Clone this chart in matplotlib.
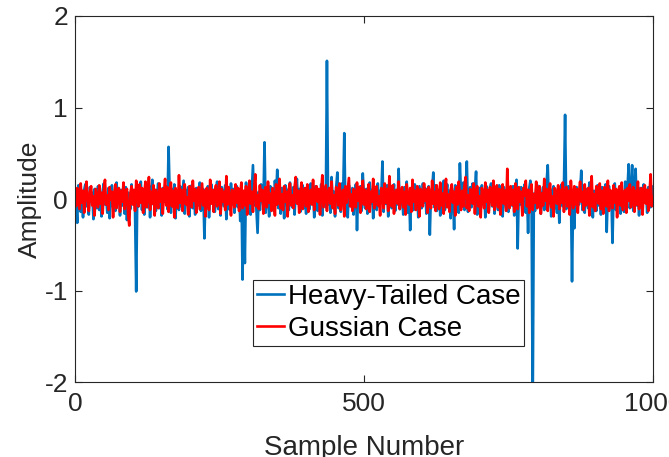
import numpy as np
import matplotlib.pyplot as plt

plt.rcParams['font.family'] = ['Liberation Sans', 'DejaVu Sans']
plt.rcParams['axes.unicode_minus'] = False

# sample positions (every 2nd sample of 0..1000)
samples = np.arange(0, 1001, 2)

# heavy-tailed noise
heavy_tailed = [
    0.12, -0.05, -0.26, 0.15, 0.03, -0.14, 0.08, -0.2, 0.1, 0.16, -0.08, 0.02, -0.17, 0.13, -0.03, 0.07, -0.22, 0.11, 0.05, -0.1,
    0.14, -0.12, 0.04, -0.19, 0.09, 0.17, -0.06, 0.01, -0.15, 0.12, -0.21, 0.06, 0.15, -0.09, 0.03, -0.13, 0.18, -0.04, 0.08, -0.18,
    0.1, -0.07, 0.05, -0.16, 0.13, -0.23, 0.07, 0.02, -0.11, 0.16, -0.05, 0.09, -0.14, -1.01, 0.11, -0.08, 0.04, 0.19, -0.12, 0.06,
    -0.17, 0.13, 0.02, -0.09, 0.15, -0.2, 0.08, 0.21, -0.06, 0.1, -0.13, 0.04, 0.17, -0.1, 0.07, -0.18, 0.12, -0.03, 0.09, 0.14,
    -0.11, 0.57, 0.05, -0.15, 0.11, -0.06, 0.16, -0.21, 0.08, 0.03, -0.12, 0.14, -0.08, 0.06, 0.2, -0.16, 0.1, -0.04, 0.13, -0.19,
    0.07, 0.15, -0.1, 0.04, -0.17, 0.12, 0.09, -0.07, 0.18, -0.13, 0.02, 0.11, -0.43, 0.06, -0.09, 0.14, -0.2, 0.08, 0.16, -0.05,
    0.1, -0.14, 0.05, 0.19, -0.11, 0.03, -0.18, 0.13, 0.07, -0.08, 0.15, -0.22, 0.09, 0.01, -0.12, 0.17, -0.06, 0.11, -0.15, 0.04,
    0.14, -0.09, 0.08, -0.24, 0.12, -0.88, 0.06, -0.7, 0.18, -0.13, 0.05, 0.1, -0.17, 0.09, 0.37, -0.07, 0.13, -0.11, -0.37, 0.08,
    -0.12, 0.16, 0.03, -0.08, 0.62, -0.15, 0.11, 0.06, -0.19, 0.14, -0.04, 0.09, -0.13, 0.2, 0.02, 0.32, -0.1, 0.07, -0.16, 0.12,
    0.05, -0.21, 0.15, -0.06, 0.1, -0.12, 0.18, 0.03, -0.09, 0.13, -0.17, 0.08, 0.22, -0.05, 0.11, -0.14, 0.06, 0.15, -0.1, 0.02,
    -0.16, 0.12, 0.07, -0.11, 0.17, -0.04, 0.09, -0.2, 0.14, 0.04, -0.13, 0.1, -0.07, 0.16, -0.18, 0.08, 0.13, -0.09, 1.51, -0.06,
    0.11, -0.15, 0.24, -0.03, 0.08, -0.19, 0.13, 0.29, -0.1, 0.06, -0.14, 0.17, 0.02, 0.72, -0.12, 0.1, -0.2, 0.15, 0.05, -0.08,
    0.12, -0.17, 0.07, 0.16, -0.34, 0.09, -0.06, 0.14, -0.13, 0.28, 0.04, -0.1, 0.11, -0.16, 0.08, 0.18, -0.05, 0.1, -0.21, 0.13,
    0.06, -0.12, 0.17, -0.08, 0.09, 0.03, 0.41, -0.14, 0.11, -0.05, 0.15, -0.19, 0.07, 0.12, -0.1, 0.04, 0.16, -0.13, 0.08, -0.06,
    0.33, -0.11, 0.1, 0.05, -0.17, 0.13, -0.08, 0.19, -0.15, 0.07, -0.34, 0.11, 0.03, -0.12, 0.16, -0.06, 0.09, -0.2, 0.14, 0.02,
    -0.1, 0.17, -0.04, 0.12, -0.16, 0.08, 0.14, -0.39, 0.06, 0.11, 0.29, -0.09, 0.15, -0.13, 0.04, 0.1, -0.18, 0.13, -0.07, 0.2,
    -0.12, 0.06, 0.16, -0.05, 0.09, -0.21, 0.12, 0.03, -0.33, 0.15, -0.1, 0.08, -0.15, 0.39, 0.05, -0.08, 0.18, -0.12, 0.11, 0.41,
    -0.14, 0.07, 0.13, -0.09, 0.17, -0.03, 0.1, 0.3, -0.17, 0.06, 0.12, -0.11, 0.15, -0.06, 0.09, -0.2, 0.14, 0.04, -0.13, 0.11,
    0.17, -0.08, 0.05, -0.16, 0.12, 0.08, -0.12, 0.15, -0.05, 0.1, -0.19, 0.13, 0.02, -0.1, 0.16, -0.14, 0.07, 0.11, -0.07, 0.14,
    -0.18, 0.09, 0.21, -0.54, 0.1, -0.06, 0.13, -0.11, 0.05, 0.16, -0.15, 0.08, -0.37, 0.12, 0.2, -0.09, -2.3, 0.06, -0.13, 0.11,
    0.15, -0.07, 0.1, -0.16, 0.04, 0.13, -0.12, 0.08, 0.18, 0.37, -0.05, 0.11, -0.19, 0.07, 0.14, -0.1, 0.03, -0.15, 0.12, -0.26,
    0.09, 0.16, -0.08, 0.12, 0.92, -0.11, 0.06, 0.14, -0.14, 0.1, -0.9, 0.05, -0.32, 0.1, 0.13, 0.07, -0.06, 0.08, 0.31, -0.12,
    0.04, -0.15, 0.11, 0.07, -0.1, 0.18, -0.05, 0.12, -0.2, 0.09, 0.03, -0.13, 0.15, -0.07, 0.1, -0.17, 0.13, 0.06, -0.11, 0.16,
    -0.36, 0.08, 0.14, -0.09, 0.05, -0.48, 0.11, 0.17, -0.12, 0.07, -0.06, 0.13, -0.16, 0.1, 0.04, -0.14, 0.19, -0.08, 0.12, 0.38,
    -0.1, 0.06, 0.37, -0.13, 0.15, 0.33, -0.07, 0.09, -0.18, 0.12, 0.05, -0.11, 0.16, -0.04, 0.1, -0.15, 0.13, 0.07, -0.09, 0.14,
    0.0,
]

# gaussian noise
gaussian = [
    0.05, -0.08, 0.12, 0.02, -0.11, 0.17, -0.04, 0.09, -0.15, 0.06, 0.19, -0.02, -0.13, 0.08, 0.14, -0.07, 0.03, -0.18, 0.11, 0.01,
    -0.09, 0.15, -0.05, 0.07, -0.16, 0.1, 0.21, -0.06, 0.04, -0.12, 0.13, -0.01, 0.08, -0.2, 0.06, 0.16, -0.1, 0.02, 0.12, -0.14,
    0.09, -0.03, 0.18, -0.11, 0.05, 0.11, -0.17, -0.29, 0.07, 0.14, -0.06, 0.1, -0.13, 0.2, 0.01, -0.08, 0.16, -0.04, 0.12, -0.15,
    0.06, 0.19, -0.09, 0.03, 0.24, -0.12, 0.08, -0.05, 0.15, -0.18, 0.1, 0.02, -0.1, 0.17, -0.03, 0.11, -0.16, 0.07, 0.22, -0.07,
    0.13, -0.14, 0.04, 0.18, -0.08, 0.09, -0.2, 0.12, 0.05, -0.1, 0.26, -0.04, 0.1, -0.13, 0.07, 0.16, -0.06, 0.02, -0.17, 0.14,
    0.08, -0.09, 0.2, -0.02, 0.11, -0.15, 0.06, 0.13, -0.11, 0.03, 0.17, -0.07, 0.09, -0.19, 0.12, 0.04, -0.12, 0.21, -0.05, 0.1,
    -0.14, 0.07, 0.15, -0.08, 0.02, 0.19, -0.16, 0.11, -0.03, 0.08, -0.12, 0.25, -0.06, 0.13, 0.01, -0.18, 0.1, 0.05, -0.09, 0.16,
    -0.04, 0.12, -0.13, 0.06, 0.18, -0.1, 0.09, -0.07, 0.14, -0.17, 0.03, 0.2, -0.05, 0.08, -0.14, 0.11, 0.27, -0.08, 0.04, -0.11,
    0.15, -0.02, 0.1, -0.16, 0.07, 0.13, -0.09, 0.19, -0.04, 0.06, -0.13, 0.12, 0.02, -0.18, 0.16, -0.06, 0.09, 0.22, -0.1, 0.05,
    -0.12, 0.14, -0.03, 0.08, -0.19, 0.11, 0.17, -0.07, 0.04, -0.1, 0.13, 0.24, -0.05, 0.09, -0.15, 0.06, 0.18, -0.11, 0.02, 0.12,
    -0.08, 0.16, -0.14, 0.05, 0.1, -0.06, 0.21, -0.12, 0.07, 0.14, -0.03, 0.11, -0.17, 0.08, 0.26, -0.09, 0.03, 0.15, -0.13, 0.06,
    0.12, -0.05, 0.19, -0.1, 0.04, -0.16, 0.13, 0.08, -0.07, 0.17, -0.12, 0.02, 0.1, -0.19, 0.14, -0.04, 0.09, 0.23, -0.08, 0.05,
    -0.13, 0.11, 0.06, -0.09, 0.18, -0.02, 0.13, -0.15, 0.07, 0.2, -0.06, 0.1, -0.11, 0.04, 0.16, -0.14, 0.08, -0.03, 0.22, -0.1,
    0.09, 0.14, -0.07, 0.03, -0.18, 0.12, 0.06, -0.1, 0.17, -0.04, 0.11, -0.13, 0.25, 0.02, -0.08, 0.15, -0.16, 0.07, 0.1, -0.05,
    0.19, -0.11, 0.04, 0.13, -0.09, 0.08, -0.17, 0.16, 0.01, -0.06, 0.12, -0.14, 0.21, -0.03, 0.09, -0.12, 0.14, 0.05, -0.19, 0.11,
    0.07, -0.08, 0.17, -0.02, 0.1, -0.15, 0.13, 0.04, -0.1, 0.2, -0.05, 0.08, -0.13, 0.15, 0.03, -0.11, 0.18, -0.07, 0.06, -0.16,
    0.12, 0.22, -0.09, 0.05, -0.14, 0.1, 0.16, -0.04, 0.08, -0.18, 0.13, -0.06, 0.19, 0.02, -0.12, 0.09, -0.08, 0.15, 0.24, -0.1,
    0.04, -0.13, 0.11, 0.07, -0.05, 0.17, -0.16, 0.09, 0.14, -0.08, 0.03, -0.2, 0.12, 0.06, -0.1, 0.18, -0.03, 0.1, -0.15, 0.13,
    0.08, -0.07, 0.2, -0.12, 0.05, 0.15, -0.09, 0.11, -0.17, 0.03, 0.16, -0.05, 0.09, -0.13, 0.33, 0.01, -0.1, 0.14, -0.06, 0.1,
    -0.14, 0.17, 0.06, -0.11, 0.13, -0.03, 0.08, -0.18, 0.12, 0.04, 0.2, -0.08, 0.1, -0.15, 0.07, 0.16, -0.12, 0.05, -0.04, 0.19,
    -0.1, 0.09, 0.14, -0.16, 0.06, -0.07, 0.22, -0.02, 0.11, -0.13, 0.08, 0.17, -0.09, 0.03, -0.19, 0.12, 0.07, -0.05, 0.15, -0.11,
    0.1, -0.04, 0.18, -0.14, 0.06, 0.13, -0.08, 0.09, -0.17, 0.2, 0.02, -0.1, 0.14, -0.06, 0.11, -0.15, 0.07, 0.19, -0.03, 0.08,
    -0.12, 0.16, -0.07, 0.04, 0.12, -0.18, 0.1, 0.25, -0.09, 0.05, -0.13, 0.14, 0.07, -0.05, 0.17, -0.11, 0.09, -0.16, 0.13, 0.03,
    -0.08, 0.2, -0.13, 0.1, 0.06, -0.1, 0.15, -0.04, 0.11, -0.2, 0.08, 0.14, -0.07, 0.18, -0.12, 0.05, 0.1, -0.15, 0.12, -0.02,
    0.16, -0.09, 0.07, 0.13, -0.14, 0.09, -0.06, 0.19, -0.11, 0.04, 0.12, -0.17, 0.08, 0.15, -0.05, 0.1, -0.13, 0.06, 0.27, -0.08,
    0.02,
]

x_ticks = [0, 500, 1000]
y_ticks = [-2, -1, 0, 1, 2]

fig = plt.figure(figsize=(6.69, 4.57), dpi=100)
ax = fig.add_axes([0.112, 0.164, 0.864, 0.801])

ax.plot(samples, heavy_tailed, color='#0072BD', lw=1.9, label='Heavy-Tailed Case')
ax.plot(samples, gaussian, color='#FF0000', lw=1.9, label='Gussian Case')

ax.set_xlim(0, 1000)
ax.set_ylim(-2, 2)
ax.set_xticks(x_ticks)
ax.set_yticks(y_ticks)

for s in ax.spines.values():
    s.set_color('#262626')
    s.set_linewidth(0.8)
ax.tick_params(direction='in', top=True, right=True, length=5, width=0.8,
               colors='#262626', labelsize=19, pad=5)
ax.tick_params(axis='x', pad=7)

ax.set_xlabel('Sample Number', fontsize=20, color='#262626', labelpad=14)
ax.set_ylabel('Amplitude', fontsize=19, color='#262626', labelpad=2)

leg = ax.legend(loc='upper left', bbox_to_anchor=(0.308, 0.279), fontsize=20,
                fancybox=False, framealpha=1, edgecolor='#262626',
                handlelength=0.95, handletextpad=0.15, borderpad=0.15,
                labelspacing=0.2, borderaxespad=0)
leg.get_frame().set_linewidth(0.8)

fig.savefig('out.png', dpi=100)
plt.close(fig)
